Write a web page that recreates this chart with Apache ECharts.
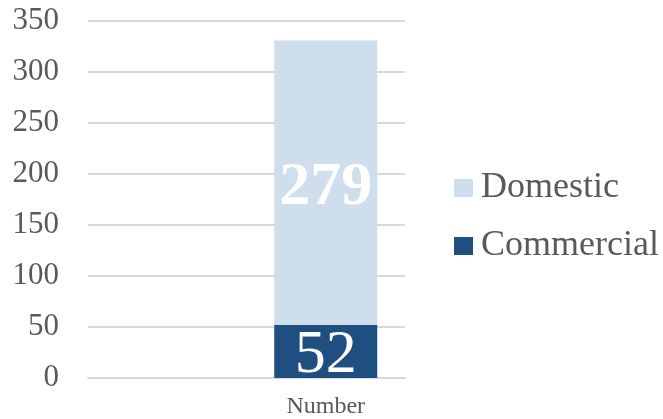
<!DOCTYPE html>
<html>
<head>
<meta charset="utf-8">
<script src="https://cdn.jsdelivr.net/npm/echarts@6/dist/echarts.min.js"></script>
<style>
  html, body { margin: 0; padding: 0; background: #fff; }
  #chart { width: 663px; height: 419px; }
</style>
</head>
<body>
<div id="chart"></div>
<script>
// Categories: an empty leading slot keeps the bar in the right half of the plot
const categories = ['', 'Number'];
const commercial = [null, 52];
const domestic = [null, 279];
const yTicks = { min: 0, max: 350, interval: 50 };

const FONT = '"Liberation Serif", "Times New Roman", serif';

const chart = echarts.init(document.getElementById('chart'), null, { renderer: 'canvas' });
chart.setOption({
  animation: false,
  textStyle: { fontFamily: FONT },
  grid: { left: 88, right: 258, top: 21, bottom: 39 },
  legend: {
    orient: 'vertical',
    left: 449,
    top: 165,
    itemWidth: 19,
    itemHeight: 18,
    itemGap: 22,
    icon: 'rect',
    data: ['Domestic', 'Commercial'],
    textStyle: { fontFamily: FONT, fontSize: 36, color: '#595959', padding: [0, 0, 0, 3] }
  },
  xAxis: {
    type: 'category',
    data: categories,
    axisLine: { show: true, lineStyle: { color: '#d9d9d9', width: 2 } },
    axisTick: { show: false },
    axisLabel: { fontFamily: FONT, fontSize: 24, color: '#595959', margin: 17 }
  },
  yAxis: {
    type: 'value',
    min: yTicks.min,
    max: yTicks.max,
    interval: yTicks.interval,
    axisLine: { show: false },
    axisTick: { show: false },
    splitLine: { lineStyle: { color: '#d9d9d9', width: 2 } },
    axisLabel: { fontFamily: FONT, fontSize: 31, color: '#595959', margin: 29 }
  },
  series: [
    {
      name: 'Commercial',
      type: 'bar',
      stack: 'total',
      data: commercial,
      barWidth: '65%',
      itemStyle: { color: '#1f4e80' },
      label: {
        show: true,
        position: 'inside',
        fontFamily: FONT,
        fontSize: 62,
        color: '#ffffff',
        offset: [0, 4]
      }
    },
    {
      name: 'Domestic',
      type: 'bar',
      stack: 'total',
      data: domestic,
      barWidth: '65%',
      itemStyle: { color: '#cfdeed' },
      label: {
        show: true,
        position: 'inside',
        fontFamily: FONT,
        fontSize: 62,
        fontWeight: 'bold',
        color: '#ffffff',
        offset: [0, 5]
      }
    }
  ]
});
</script>
</body>
</html>
